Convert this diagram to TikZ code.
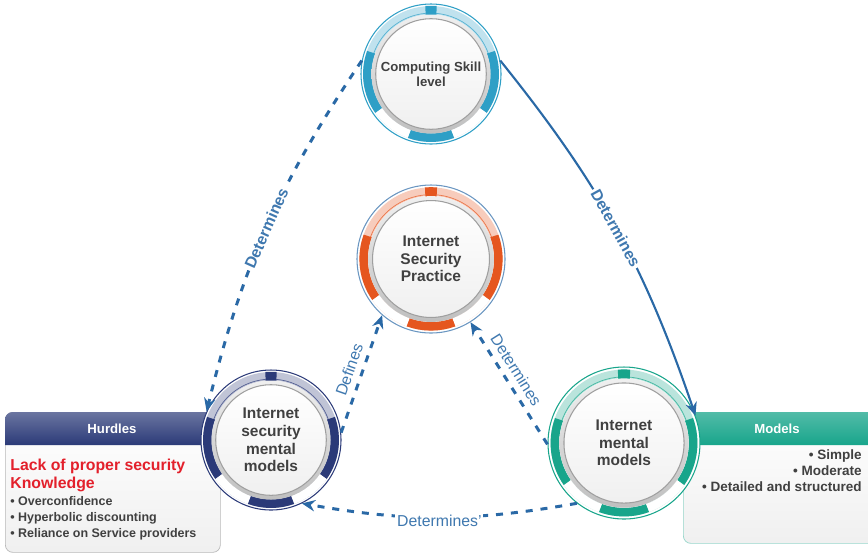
\documentclass[tikz,border=0pt]{standalone}
\usepackage{fontspec}
\setmainfont{Liberation Sans}
\usetikzlibrary{arrows.meta,positioning}

\definecolor{skyc}{HTML}{2E9FC6}
\definecolor{orangec}{HTML}{E5561F}
\definecolor{navyc}{HTML}{2B3A78}
\definecolor{tealc}{HTML}{18A58B}
\definecolor{linkc}{HTML}{2A69A6}
\definecolor{redc}{HTML}{E3202B}
\definecolor{textc}{HTML}{404040}

% coloured ring round a hub node: #1 node, #2 colour, #3 outer radius
\newcommand{\hubring}[3]{%
  \begin{scope}[shift={(#1.center)}, scale=#3]
    \draw[#2!30, line width=0.17cm] (0,0) circle (0.91);
    \draw[#2!80, line width=0.4pt] (20:0.87) arc[start angle=20, end angle=160, radius=0.87];
    \foreach \a/\b in {160/215, 250/290, -35/20}
      \draw[#2, line width=0.17cm] (\a:0.91) arc[start angle=\a, end angle=\b, radius=0.91];
    \foreach \a/\b in {215/250, 290/325}
      \draw[white, line width=0.17cm] (\a:0.91) arc[start angle=\a, end angle=\b, radius=0.91];
    \draw[#2, line width=0.21cm] (85:0.9) arc[start angle=85, end angle=95, radius=0.9];
    \shade[top color=gray!12, bottom color=gray!50, even odd rule] (0,0) circle (0.85) (0,0) circle (0.79);
    \shade[top color=white, bottom color=gray!12] (0,0) circle (0.79);
    \draw[gray!75, line width=0.6pt] (0,0) circle (0.79);
  \end{scope}}

\tikzset{
  hub/.style={circle, minimum size=#1, inner sep=0pt, fill=white, line width=0.6pt},
  hubtext/.style={align=center, text=textc, font=\fontsize{8.8}{10}\selectfont\bfseries},
  panel/.style={rounded corners=0.15cm, draw=gray!55, top color=white, bottom color=gray!12, inner sep=0pt, anchor=north west},
  headtext/.style={text=white, font=\fontsize{7.5}{9}\selectfont\bfseries},
  keytext/.style={align=left, inner sep=0pt, anchor=north west, text=redc, font=\fontsize{9}{10.2}\selectfont\bfseries},
  listtext/.style={inner sep=0pt, text=textc, font=\fontsize{7.1}{9}\selectfont\bfseries},
  link/.style={draw=linkc, line width=1.2pt, -{Stealth[length=7.5pt,width=6.5pt]}},
  dashlink/.style={link, line width=1.7pt, dash pattern=on 4pt off 4.5pt},
  linklabel/.style={text=linkc!90, font=\fontsize{9}{10}\selectfont},
}

\begin{document}
\begin{tikzpicture}
  \useasboundingbox (0,0) rectangle (17.36,-11.1);

  % boxes
  \node[panel, minimum width=4.3cm, minimum height=2.8cm] (hurdles) at (0.1,-8.24) {};
  \shade[top color=navyc!70, bottom color=navyc] ([yshift=-0.66cm]hurdles.north west) [rounded corners=0.15cm] -- (hurdles.north west) -- (hurdles.north east) [sharp corners] -- ([yshift=-0.66cm]hurdles.north east) -- cycle;
  \node[headtext] (hurdlesHead) at (2.24,-8.57) {Hurdles};
  \node[keytext] (hurdlesKey) at (0.2,-9.17) {Lack of proper security\\Knowledge};
  \node[listtext, align=left, below=0.09cm of hurdlesKey.south west, anchor=north west] (hurdlesList)
    {\textbullet\ Overconfidence\\\textbullet\ Hyperbolic discounting\\\textbullet\ Reliance on Service providers};

  \node[panel, draw=tealc!45, minimum width=3.94cm, minimum height=2.62cm] (models) at (13.66,-8.24) {};
  \shade[top color=tealc!75, bottom color=tealc] ([yshift=-0.66cm]models.north west) [rounded corners=0.15cm] -- (models.north west) -- (models.north east) [sharp corners] -- ([yshift=-0.66cm]models.north east) -- cycle;
  \node[headtext] (modelsHead) at (15.54,-8.57) {Models};
  \node[listtext, font=\fontsize{7.7}{9.3}\selectfont\bfseries, align=right, anchor=north east] (modelsList) at (17.24,-8.98)
    {\textbullet\ Simple\\\textbullet\ Moderate\\\textbullet\ Detailed and structured};

  % hubs
  \node[hub=2.8cm, draw=skyc] (skill) at (8.62,-1.48) {};
  \hubring{skill}{skyc}{1.4}
  \node[hubtext, font=\fontsize{7.5}{8.6}\selectfont\bfseries] (skillTxt) at (skill) {Computing Skill\\level};

  \node[hub=2.96cm, draw=linkc!70] (practice) at (8.62,-5.18) {};
  \hubring{practice}{orangec}{1.48}
  \node[hubtext] (practiceTxt) at (practice) {Internet\\Security\\Practice};

  \node[hub=2.8cm, draw=navyc] (secmodel) at (5.42,-8.8) {};
  \hubring{secmodel}{navyc}{1.4}
  \node[hubtext] (secmodelTxt) at (secmodel) {Internet\\security\\mental\\models};

  \node[hub=3.04cm, draw=tealc] (netmodel) at (12.48,-8.86) {};
  \hubring{netmodel}{tealc}{1.52}
  \node[hubtext] (netmodelTxt) at (netmodel) {Internet\\mental\\models};

  % connectors
  \draw[dashlink] (skill.169) to[bend right=10]
    node[linklabel, font=\fontsize{9}{10}\selectfont\bfseries, sloped, fill=white, inner sep=1pt] (lblA) {Determines} (secmodel.156);
  \draw[link] (skill.11) to[bend left=10]
    node[linklabel, font=\fontsize{9}{10}\selectfont\bfseries, sloped, fill=white, inner sep=1pt] (lblB) {Determines} (netmodel.21);
  \draw[dashlink] (secmodel.6) -- node[linklabel, sloped, above] (lblC) {Defines} (practice.229);
  \draw[dashlink] (netmodel.181) -- node[linklabel, sloped, above, pos=0.55] (lblD) {Determines} (practice.302);
  \draw[dashlink] (netmodel.232) to[bend left=10]
    node[linklabel, fill=white, inner sep=1pt, yshift=-2pt] (lblE) {Determines'} (secmodel.296);
\end{tikzpicture}
\end{document}
